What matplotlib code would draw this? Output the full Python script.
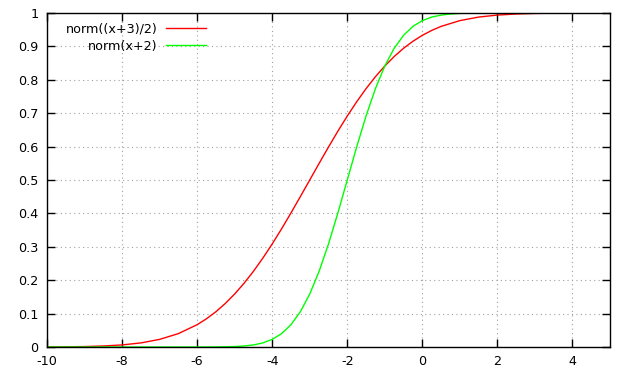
import matplotlib
matplotlib.use("Agg")
import matplotlib.pyplot as plt
from matplotlib.ticker import FormatStrFormatter

# values
red_x = [-10, -9.5, -9, -8.5, -8, -7.5, -7, -6.5, -6, -5.75, -5.5, -5.25, -5, -4.75,
         -4.5, -4.25, -4, -3.75, -3.5, -3.25, -3, -2.75, -2.5, -2.25, -2, -1.75,
         -1.5, -1.25, -1, -0.75, -0.5, -0.25, 0, 0.25, 0.5, 1, 1.5, 2, 2.5, 3, 3.5,
         4, 4.5, 5]
red_y = [0.0002, 0.0006, 0.0013, 0.0030, 0.0062, 0.0122, 0.0228, 0.0401, 0.0668,
         0.0846, 0.1056, 0.1303, 0.1587, 0.1908, 0.2266, 0.2660, 0.3085, 0.3538,
         0.4013, 0.4503, 0.5, 0.5497, 0.5987, 0.6462, 0.6915, 0.7340, 0.7734,
         0.8092, 0.8413, 0.8697, 0.8944, 0.9154, 0.9332, 0.9479, 0.9599, 0.9772,
         0.9878, 0.9938, 0.9970, 0.9987, 0.9994, 0.9998, 0.9999, 1.0]

green_x = [-10, -6, -5.5, -5, -4.75, -4.5, -4.25, -4, -3.75, -3.5, -3.25, -3, -2.75,
           -2.5, -2.25, -2, -1.75, -1.5, -1.25, -1, -0.75, -0.5, -0.25, 0, 0.25,
           0.5, 0.75, 1, 1.5, 2, 5]
green_y = [0.0, 0.0, 0.0002, 0.0013, 0.0030, 0.0062, 0.0122, 0.0228, 0.0401, 0.0668,
           0.1056, 0.1587, 0.2266, 0.3085, 0.4013, 0.5, 0.5987, 0.6915, 0.7734,
           0.8413, 0.8944, 0.9332, 0.9599, 0.9772, 0.9878, 0.9938, 0.9970, 0.9987,
           0.9998, 1.0, 1.0]

x_ticks = [-10, -8, -6, -4, -2, 0, 2, 4]
y_ticks = [0, 0.1, 0.2, 0.3, 0.4, 0.5, 0.6, 0.7, 0.8, 0.9, 1]

plt.rcParams["font.family"] = ["DejaVu Sans"]
plt.rcParams["font.size"] = 9.2
plt.rcParams["axes.unicode_minus"] = False

fig = plt.figure(figsize=(6.19, 3.75), dpi=100)
ax = fig.add_axes([47 / 619, 1 - 347 / 375, (610 - 47) / 619, (347 - 13) / 375])

ax.plot(red_x, red_y, color="#ff0000", linewidth=1.0, label="norm((x+3)/2)")
ax.plot(green_x, green_y, color="#00ff00", linewidth=1.0, label="norm(x+2)")

ax.set_xlim(-10, 5)
ax.set_ylim(0, 1)
ax.set_xticks(x_ticks)
ax.set_yticks(y_ticks)
ax.yaxis.set_major_formatter(FormatStrFormatter("%g"))

ax.grid(True, color="#a0a0a0", linestyle=(0, (1, 3)), linewidth=0.8)
ax.tick_params(direction="in", length=6, width=1, top=True, right=True,
               labelsize=9.2, pad=6)
for s in ax.spines.values():
    s.set_linewidth(1.0)
    s.set_zorder(3)

ax.legend(loc="upper right", frameon=False, markerfirst=False, handlelength=3.1,
          handletextpad=0.7, labelspacing=0.3, borderaxespad=0.2,
          bbox_to_anchor=(0.296, 0.994))

fig.savefig("out.png", dpi=100)
